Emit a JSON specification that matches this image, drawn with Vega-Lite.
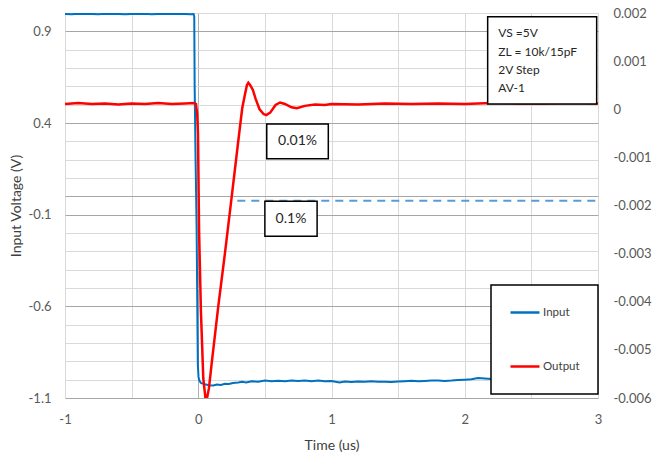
{
  "$schema": "https://vega.github.io/schema/vega-lite/v6.json",
  "autosize": {"type": "none"},
  "padding": {"left": 65, "top": 13, "right": 54, "bottom": 61},
  "width": 533,
  "height": 385,
  "background": "white",
  "config": {
    "font": "Lato",
    "view": {"stroke": null},
    "axis": {"labelFont": "Lato", "labelFontSize": 13, "labelColor": "#595959", "titleFont": "Lato", "titleFontSize": 14, "titleFontWeight": "normal", "titleColor": "#404040", "ticks": false, "domain": false, "labelFlush": false},
    "legend": {"orient": "none", "legendX": 426, "legendY": 272, "strokeColor": "black", "strokeWidth": 1.5, "fillColor": "white", "padding": 18, "symbolType": "stroke", "symbolSize": 841, "symbolStrokeWidth": 2.5, "clipHeight": 19, "rowPadding": 35, "labelFont": "Lato", "labelFontSize": 11.5, "labelColor": "#404040", "labelOffset": 2, "title": null}
  },
  "datasets": {
    "input": [
      {"t": -1, "v": 0.995}, {"t": -0.95, "v": 0.993}, {"t": -0.9, "v": 0.996}, {"t": -0.85, "v": 0.994}, {"t": -0.8, "v": 0.995},
      {"t": -0.75, "v": 0.993}, {"t": -0.7, "v": 0.996}, {"t": -0.65, "v": 0.994}, {"t": -0.6, "v": 0.995}, {"t": -0.55, "v": 0.993},
      {"t": -0.5, "v": 0.995}, {"t": -0.45, "v": 0.994}, {"t": -0.4, "v": 0.996}, {"t": -0.35, "v": 0.993}, {"t": -0.3, "v": 0.995},
      {"t": -0.25, "v": 0.994}, {"t": -0.2, "v": 0.996}, {"t": -0.15, "v": 0.994}, {"t": -0.1, "v": 0.995}, {"t": -0.06, "v": 0.993},
      {"t": -0.035, "v": 0.994}, {"t": -0.03, "v": 0.98}, {"t": -0.027, "v": 0.6}, {"t": -0.02, "v": 0.2}, {"t": -0.012, "v": -0.18},
      {"t": -0.006, "v": -0.7}, {"t": -0.003, "v": -0.92}, {"t": 0.002, "v": -0.985}, {"t": 0.008, "v": -1.005}, {"t": 0.02, "v": -1.018},
      {"t": 0.05, "v": -1.025}, {"t": 0.08, "v": -1.03}, {"t": 0.113, "v": -1.032}, {"t": 0.14, "v": -1.026}, {"t": 0.17, "v": -1.029},
      {"t": 0.2, "v": -1.022}, {"t": 0.23, "v": -1.024}, {"t": 0.26, "v": -1.018}, {"t": 0.3, "v": -1.016}, {"t": 0.33, "v": -1.012},
      {"t": 0.36, "v": -1.015}, {"t": 0.4, "v": -1.009}, {"t": 0.45, "v": -1.011}, {"t": 0.5, "v": -1.005}, {"t": 0.55, "v": -1.008},
      {"t": 0.6, "v": -1.006}, {"t": 0.65, "v": -1.009}, {"t": 0.7, "v": -1.004}, {"t": 0.75, "v": -1.007}, {"t": 0.8, "v": -1.005},
      {"t": 0.85, "v": -1.008}, {"t": 0.9, "v": -1.005}, {"t": 0.95, "v": -1.008}, {"t": 1.0, "v": -1.007}, {"t": 1.06, "v": -1.016},
      {"t": 1.1, "v": -1.01}, {"t": 1.15, "v": -1.013}, {"t": 1.2, "v": -1.01}, {"t": 1.25, "v": -1.012}, {"t": 1.3, "v": -1.009},
      {"t": 1.35, "v": -1.012}, {"t": 1.4, "v": -1.011}, {"t": 1.45, "v": -1.013}, {"t": 1.5, "v": -1.01}, {"t": 1.55, "v": -1.008},
      {"t": 1.6, "v": -1.006}, {"t": 1.65, "v": -1.009}, {"t": 1.7, "v": -1.007}, {"t": 1.75, "v": -1.005}, {"t": 1.8, "v": -1.004},
      {"t": 1.85, "v": -1.007}, {"t": 1.9, "v": -1.005}, {"t": 1.95, "v": -1.002}, {"t": 2.0, "v": -1.0}, {"t": 2.05, "v": -0.998},
      {"t": 2.1, "v": -0.991}, {"t": 2.15, "v": -0.994}, {"t": 2.2, "v": -0.997}, {"t": 2.25, "v": -0.995}, {"t": 2.3, "v": -0.998},
      {"t": 2.4, "v": -0.996}, {"t": 2.5, "v": -0.998}, {"t": 2.6, "v": -0.995}, {"t": 2.7, "v": -0.997}, {"t": 2.8, "v": -0.995},
      {"t": 2.9, "v": -0.998}, {"t": 3.0, "v": -0.997}
    ],
    "output": [
      {"t": -1, "v": 0.00011}, {"t": -0.9, "v": 0.00013}, {"t": -0.8, "v": 0.00011}, {"t": -0.7, "v": 0.00012}, {"t": -0.6, "v": 0.0001},
      {"t": -0.5, "v": 0.00012}, {"t": -0.4, "v": 0.00011}, {"t": -0.3, "v": 0.00013}, {"t": -0.2, "v": 0.00011}, {"t": -0.1, "v": 0.00012},
      {"t": -0.03, "v": 0.00013}, {"t": -0.017, "v": 0.00011}, {"t": -0.008, "v": -0.0001}, {"t": -0.002, "v": -0.0005}, {"t": 0.002, "v": -0.0015},
      {"t": 0.006, "v": -0.0025}, {"t": 0.02, "v": -0.0042}, {"t": 0.038, "v": -0.0056}, {"t": 0.05, "v": -0.0059}, {"t": 0.058, "v": -0.0061},
      {"t": 0.066, "v": -0.006}, {"t": 0.08, "v": -0.0058}, {"t": 0.1, "v": -0.0053}, {"t": 0.15, "v": -0.0041}, {"t": 0.2, "v": -0.003},
      {"t": 0.25, "v": -0.00184}, {"t": 0.3, "v": -0.00067}, {"t": 0.33, "v": 0.00002}, {"t": 0.35, "v": 0.0003}, {"t": 0.365, "v": 0.0005},
      {"t": 0.376, "v": 0.00055}, {"t": 0.39, "v": 0.0005}, {"t": 0.41, "v": 0.0004}, {"t": 0.43, "v": 0.00022}, {"t": 0.46, "v": 0.0},
      {"t": 0.49, "v": -0.0001}, {"t": 0.51, "v": -0.00012}, {"t": 0.54, "v": -0.00007}, {"t": 0.58, "v": 0.00009}, {"t": 0.614, "v": 0.00014},
      {"t": 0.65, "v": 0.00011}, {"t": 0.7, "v": 0.00004}, {"t": 0.74, "v": 0.00002}, {"t": 0.8, "v": 0.00007}, {"t": 0.876, "v": 0.0001},
      {"t": 0.95, "v": 0.00009}, {"t": 1.0, "v": 0.00011}, {"t": 1.2, "v": 0.0001}, {"t": 1.4, "v": 0.00012}, {"t": 1.6, "v": 0.00011},
      {"t": 1.8, "v": 0.00012}, {"t": 2.0, "v": 0.00011}, {"t": 2.2, "v": 0.00013}, {"t": 2.4, "v": 0.00012}, {"t": 2.6, "v": 0.00012},
      {"t": 2.8, "v": 0.00013}, {"t": 3.0, "v": 0.00012}
    ],
    "limit": [{"t0": 0.293, "t1": 3.0, "v": -0.0019}],
    "boxes": [
      {"label": "0.01%", "t0": 0.514, "t1": 0.976, "v0": 0.394, "v1": 0.205, "tc": 0.745, "vc": 0.3},
      {"label": "0.1%", "t0": 0.5, "t1": 0.892, "v0": -0.027, "v1": -0.218, "tc": 0.696, "vc": -0.122}
    ],
    "info": [{"t0": 2.172, "t1": 2.99, "v0": 0.98, "v1": 0.504}],
    "infotext": [
      {"text": "VS =5V", "t": 2.252, "v": 0.889},
      {"text": "ZL = 10k/15pF", "t": 2.252, "v": 0.789},
      {"text": "2V Step", "t": 2.252, "v": 0.689},
      {"text": "AV-1", "t": 2.252, "v": 0.589}
    ]
  },
  "layer": [
    {
      "data": {"name": "input"},
      "mark": {"type": "line", "strokeWidth": 2, "clip": true},
      "encoding": {
        "x": {"field": "t", "type": "quantitative", "scale": {"domain": [-1, 3], "nice": false, "zero": false},
          "axis": {"title": "Time (us)", "values": [-1, -0.5, 0, 0.5, 1, 1.5, 2, 2.5, 3],
            "labelExpr": "datum.value % 1 === 0 ? replace(format(datum.value, 'd'), '\u2212', '-') : ''",
            "grid": true, "gridColor": {"condition": {"test": "datum.value === 0", "value": "#b0b0b0"}, "value": "#d9d9d9"},
            "labelPadding": 15, "titlePadding": 12}},
        "y": {"field": "v", "type": "quantitative", "scale": {"domain": [-1.1, 1.0], "nice": false, "zero": false},
          "axis": {"title": "Input Voltage (V)", "values": [-1.1, -1, -0.9, -0.8, -0.7, -0.6, -0.5, -0.4, -0.3, -0.2, -0.1, 0, 0.1, 0.2, 0.3, 0.4, 0.5, 0.6, 0.7, 0.8, 0.9, 1.0],
            "labelExpr": "indexof([0.9, 0.4, -0.1, -0.6, -1.1], datum.value) >= 0 ? replace(format(datum.value, '.1f'), '\u2212', '-') : ''",
            "grid": true, "gridColor": {"condition": {"test": "indexof([0.9, 0.4, -0.1, -0.6, -1.1, 0], datum.value) >= 0", "value": "#a6a6a6"}, "value": "#d9d9d9"},
            "labelPadding": 14, "titlePadding": 5}},
        "color": {"datum": "Input", "type": "nominal", "scale": {"domain": ["Input", "Output"], "range": ["#0070c0", "#ff0000"]}}
      }
    },
    {
      "layer": [
        {
          "data": {"name": "output"},
          "mark": {"type": "line", "strokeWidth": 2.5, "clip": true},
          "encoding": {
            "x": {"field": "t", "type": "quantitative"},
            "y": {"field": "v", "type": "quantitative", "scale": {"domain": [-0.006, 0.002], "nice": false, "zero": false},
              "axis": {"orient": "right", "title": null, "grid": false, "values": [-0.006, -0.005, -0.004, -0.003, -0.002, -0.001, 0, 0.001, 0.002],
                "labelExpr": "replace(format(datum.value, '~g'), '\u2212', '-')", "labelPadding": 15}},
            "color": {"datum": "Output", "type": "nominal"}
          }
        },
        {
          "data": {"name": "limit"},
          "mark": {"type": "rule", "stroke": "#5b9bd5", "strokeWidth": 2, "strokeDash": [8, 6]},
          "encoding": {
            "x": {"field": "t0", "type": "quantitative"},
            "x2": {"field": "t1"},
            "y": {"field": "v", "type": "quantitative"}
          }
        }
      ]
    },
    {
      "layer": [
        {
          "data": {"name": "boxes"},
          "mark": {"type": "rect", "fill": "white", "stroke": "black", "strokeWidth": 1.5},
          "encoding": {
            "x": {"field": "t0", "type": "quantitative"},
            "x2": {"field": "t1"},
            "y": {"field": "v0", "type": "quantitative", "scale": {"domain": [-1.1, 1.0], "nice": false, "zero": false}, "axis": null},
            "y2": {"field": "v1"}
          }
        },
        {
          "data": {"name": "boxes"},
          "mark": {"type": "text", "font": "Lato", "fontSize": 14, "color": "#262626", "align": "center", "baseline": "middle"},
          "encoding": {
            "x": {"field": "tc", "type": "quantitative"},
            "y": {"field": "vc", "type": "quantitative"},
            "text": {"field": "label"}
          }
        },
        {
          "data": {"name": "info"},
          "mark": {"type": "rect", "fill": "white", "stroke": "black", "strokeWidth": 1.5},
          "encoding": {
            "x": {"field": "t0", "type": "quantitative"},
            "x2": {"field": "t1"},
            "y": {"field": "v0", "type": "quantitative"},
            "y2": {"field": "v1"}
          }
        },
        {
          "data": {"name": "infotext"},
          "mark": {"type": "text", "font": "Lato", "fontSize": 12, "color": "#262626", "align": "left", "baseline": "middle"},
          "encoding": {
            "x": {"field": "t", "type": "quantitative"},
            "y": {"field": "v", "type": "quantitative"},
            "text": {"field": "text"}
          }
        }
      ]
    }
  ],
  "resolve": {"scale": {"y": "independent"}}
}
